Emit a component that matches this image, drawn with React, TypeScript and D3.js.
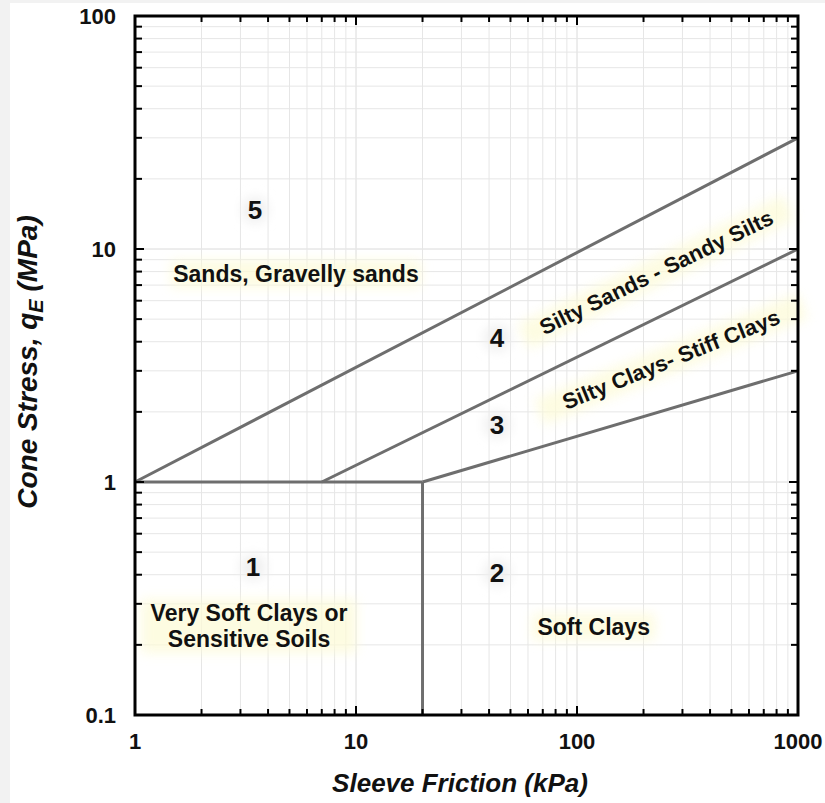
import React from "react";
import * as d3 from "d3";

// ---- data ----
const xDomain = [1, 1000];
const yDomain = [0.1, 100];
const xTickLabels = ["1", "10", "100", "1000"];
const yTickLabels = ["0.1", "1", "10", "100"];

// boundary lines [sleeve friction kPa, cone stress MPa]
const line5to4: [number, number][] = [[1, 1], [1000, 30]];
const line4to3: [number, number][] = [[7, 1], [1000, 10]];
const line3to2: [number, number][] = [[20, 1], [1000, 3]];
const line1Top: [number, number][] = [[1, 1], [20, 1]];
const line1to2: [number, number][] = [[20, 0.1], [20, 1]];
const boundaries = [line5to4, line4to3, line3to2, line1Top, line1to2];

// zone numbers
const zoneIds = ["5", "4", "3", "1", "2"];
const zoneIdX = [3.49, 43.5, 43.5, 3.42, 43.5];
const zoneIdY = [14.7, 4.15, 1.76, 0.431, 0.406];

// zone names
const zoneNames = [
  ["Sands, Gravelly sands"],
  ["Silty Sands - Sandy Silts"],
  ["Silty Clays- Stiff Clays"],
  ["Very Soft Clays or", "Sensitive Soils"],
  ["Soft Clays"],
];
const zoneNameX = [5.35, 228, 266, 3.28, 119];
const zoneNameY = [7.81, 7.97, 3.37, 0.241, 0.239];
const zoneNameAngle = [0, -26, -22, 0, 0];
const zoneNameSize = [23, 22, 22, 23, 23];

const W = 825;
const H = 803;
const M = { left: 135, right: 798, top: 16, bottom: 715 };

export default function App() {
  const x = d3.scaleLog().domain(xDomain).range([M.left, M.right]);
  const y = d3.scaleLog().domain(yDomain).range([M.bottom, M.top]);

  const xMinor: number[] = [];
  for (let d = 1; d < 1000; d *= 10) for (let k = 1; k <= 10; k++) xMinor.push(d * k);
  const yMinor: number[] = [];
  for (let d = 0.1; d < 100 - 1e-9; d *= 10) for (let k = 1; k <= 10; k++) yMinor.push(+(d * k).toPrecision(6));
  const xMajor = [1, 10, 100, 1000];
  const yMajor = [0.1, 1, 10, 100];
  const isMajor = (v: number, arr: number[]) => arr.some((a) => Math.abs(a - v) / a < 1e-6);

  const line = d3
    .line<[number, number]>()
    .x((d) => x(d[0]))
    .y((d) => y(d[1]));

  const font = "'Liberation Sans', Arial, sans-serif";

  return (
    <svg
      width={W}
      height={H}
      style={{ position: "absolute", left: 0, top: 0 }}
      fontFamily={font}
    >
      <defs>
        <filter id="glow" x="-30%" y="-60%" width="160%" height="220%">
          <feGaussianBlur stdDeviation="6" />
        </filter>
      </defs>
      <rect x={0} y={0} width={W} height={H} fill="#f2f2f2" />
      <rect x={10} y={3} width={W - 10} height={H - 3} fill="#ffffff" />

      {/* grid */}
      <g stroke="#e6e6e6" strokeWidth={1}>
        {xMinor.map((v, i) => (
          <line key={"gx" + i} x1={x(v)} x2={x(v)} y1={M.top} y2={M.bottom} />
        ))}
        {yMinor.map((v, i) => (
          <line key={"gy" + i} x1={M.left} x2={M.right} y1={y(v)} y2={y(v)} />
        ))}
      </g>

      {/* label glows */}
      {zoneNames.map((lines, i) => {
        const cx = x(zoneNameX[i]);
        const cy = y(zoneNameY[i]);
        const maxLen = Math.max(...lines.map((l) => l.length));
        const w = maxLen * 11.5 + 8;
        const h = lines.length * 27;
        return (
          <rect
            key={"gl" + i}
            x={cx - w / 2}
            y={cy - h / 2}
            width={w}
            height={h}
            fill="#fdfbd8"
            opacity={0.75}
            filter="url(#glow)"
            transform={`rotate(${zoneNameAngle[i]},${cx},${cy})`}
          />
        );
      })}
      {zoneIds.map((t, i) => (
        <circle
          key={"gc" + i}
          cx={x(zoneIdX[i])}
          cy={y(zoneIdY[i])}
          r={13}
          fill="#efefef"
          filter="url(#glow)"
        />
      ))}

      {/* boundaries */}
      <g fill="none" stroke="#6e6e6e" strokeWidth={3}>
        {boundaries.map((b, i) => (
          <path key={"b" + i} d={line(b) || ""} />
        ))}
      </g>

      {/* ticks */}
      <g stroke="#000" strokeWidth={2}>
        {xMinor.map((v, i) => {
          const len = isMajor(v, xMajor) ? 9 : 6;
          const px = x(v);
          return (
            <g key={"tx" + i}>
              <line x1={px} x2={px} y1={M.bottom} y2={M.bottom - len} />
              <line x1={px} x2={px} y1={M.top} y2={M.top + len} />
            </g>
          );
        })}
        {yMinor.map((v, i) => {
          const len = isMajor(v, yMajor) ? 9 : 7;
          const py = y(v);
          return (
            <g key={"ty" + i}>
              <line x1={M.left} x2={M.left + len} y1={py} y2={py} />
              <line x1={M.right} x2={M.right - len} y1={py} y2={py} />
            </g>
          );
        })}
      </g>

      {/* frame */}
      <rect
        x={M.left}
        y={M.top}
        width={M.right - M.left}
        height={M.bottom - M.top}
        fill="none"
        stroke="#000"
        strokeWidth={3}
      />

      {/* tick labels */}
      <g fontSize={22} fontWeight="bold" fill="#111">
        {xMajor.map((v, i) => (
          <text key={"lx" + i} x={x(v)} y={749} textAnchor="middle">
            {xTickLabels[i]}
          </text>
        ))}
        {yMajor.map((v, i) => (
          <text key={"ly" + i} x={116} y={y(v) + 8} textAnchor="end">
            {yTickLabels[i]}
          </text>
        ))}
      </g>

      {/* zone numbers */}
      <g fontSize={26} fontWeight="bold" fill="#111" textAnchor="middle">
        {zoneIds.map((t, i) => (
          <text key={"zn" + i} x={x(zoneIdX[i])} y={y(zoneIdY[i]) + 9}>
            {t}
          </text>
        ))}
      </g>

      {/* zone names */}
      <g fontWeight="bold" fill="#111" textAnchor="middle">
        {zoneNames.map((lines, i) => {
          const cx = x(zoneNameX[i]);
          const cy = y(zoneNameY[i]);
          const n = lines.length;
          return (
            <text
              key={"zt" + i}
              fontSize={zoneNameSize[i]}
              transform={`rotate(${zoneNameAngle[i]},${cx},${cy})`}
            >
              {lines.map((l, j) => (
                <tspan key={j} x={cx} y={cy + 8 + (j - (n - 1) / 2) * 26}>
                  {l}
                </tspan>
              ))}
            </text>
          );
        })}
      </g>

      {/* axis titles */}
      <text
        x={460}
        y={792}
        textAnchor="middle"
        fontSize={26}
        fontWeight="bold"
        fontStyle="italic"
        fill="#111"
      >
        Sleeve Friction (kPa)
      </text>
      <text
        transform={`translate(37,362) rotate(-90)`}
        textAnchor="middle"
        fontSize={28}
        fontWeight="bold"
        fontStyle="italic"
        fill="#111"
      >
        Cone Stress, q
        <tspan fontSize={20} dy={6}>E</tspan>
        <tspan dy={-6}> (MPa)</tspan>
      </text>
    </svg>
  );
}
